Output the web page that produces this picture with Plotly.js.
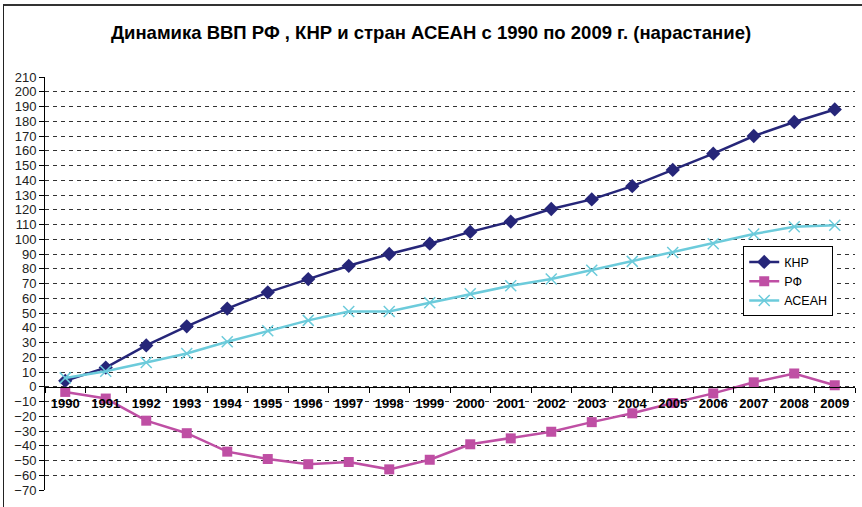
<!DOCTYPE html>
<html>
<head>
<meta charset="utf-8">
<script src="https://cdn.plot.ly/plotly-3.0.1.min.js"></script>
<style>
html,body{margin:0;padding:0;background:#fff;}
#wrap{position:relative;width:862px;height:507px;overflow:hidden;}
#chart{width:862px;height:507px;}
#frame{position:absolute;left:3px;top:4px;right:-5px;bottom:-5px;border-left:1.5px solid #222;border-top:2px solid #333;pointer-events:none;}
</style>
</head>
<body>
<div id="wrap"><div id="chart"></div><div id="frame"></div></div>
<script>
const years = ['1990','1991','1992','1993','1994','1995','1996','1997','1998','1999','2000','2001','2002','2003','2004','2005','2006','2007','2008','2009'];
const knr = [4, 13, 28, 41, 53, 64, 73, 82, 90, 97, 105, 112, 120.5, 127, 136, 147, 158, 170, 179.5, 188];
const rf = [-3.5, -8, -23, -31.5, -44, -49, -52.5, -51, -56, -49.5, -39, -35, -30.5, -24, -18, -11, -4.5, 3, 9, 1];
const asean = [6, 10.5, 16.5, 22.5, 30.5, 38, 45, 51, 51, 57, 63, 68.5, 73, 79, 85, 91, 97, 103.5, 108.5, 109.5];
const names = ['КНР', 'РФ', 'АСЕАН'];
const yTicks = [-70,-60,-50,-40,-30,-20,-10,0,10,20,30,40,50,60,70,80,90,100,110,120,130,140,150,160,170,180,190,200,210];
const titleText = 'Динамика ВВП РФ , КНР и стран АСЕАН с 1990 по 2009 г. (нарастание)';

const traces = [
  {x: years, y: knr, name: names[0], type: 'scatter', mode: 'lines+markers',
   line: {color: '#262679', width: 2.5},
   marker: {symbol: 'diamond', size: 11, color: '#262679'}},
  {x: years, y: rf, name: names[1], type: 'scatter', mode: 'lines+markers',
   line: {color: '#bf4fa4', width: 2.5},
   marker: {symbol: 'square', size: 10, color: '#bf4fa4'}},
  {x: years, y: asean, name: names[2], type: 'scatter', mode: 'lines+markers',
   line: {color: '#6ccbdb', width: 2.5},
   marker: {symbol: 'x-thin-open', size: 11, color: '#6ccbdb', line: {color: '#6ccbdb', width: 1.5}}}
];

const layout = {
  width: 862, height: 507,
  margin: {l: 45, r: 7, t: 77, b: 17},
  paper_bgcolor: '#fff', plot_bgcolor: '#fff',
  font: {family: 'Liberation Sans, Arial, sans-serif', color: '#111', size: 12},
  title: {text: '<b>' + titleText + '</b>', font: {size: 18.5, color: '#000', family: 'Liberation Sans, Arial, sans-serif'},
          x: 0.5, xanchor: 'center', y: 0.935, yanchor: 'middle'},
  showlegend: true,
  legend: {x: 0.862, xanchor: 'left', y: 0.59, yanchor: 'top', bordercolor: '#000', borderwidth: 1,
           bgcolor: '#fff', font: {size: 12.5, color: '#000'}, tracegroupgap: 0, itemwidth: 30},
  xaxis: {type: 'category', range: [-0.5, 19.5], anchor: 'free', position: 0.25,
          showgrid: false, zeroline: false, showline: true, linecolor: '#000', linewidth: 1,
          ticks: 'outside', ticklen: 5, tickcolor: '#000', tickson: 'boundaries',
          tickfont: {size: 13, color: '#000', weight: 'bold'}, ticklabelstandoff: 5},
  yaxis: {range: [-70, 210], tickvals: yTicks, showgrid: true, gridcolor: '#333', griddash: '4px,4px', gridwidth: 1,
          zeroline: false, showline: true, linecolor: '#000', linewidth: 1,
          ticks: 'outside', ticklen: 5, tickcolor: '#000', tickfont: {size: 13, color: '#222'}}
};

Plotly.newPlot('chart', traces, layout, {displayModeBar: false, staticPlot: true});
</script>
</body>
</html>
